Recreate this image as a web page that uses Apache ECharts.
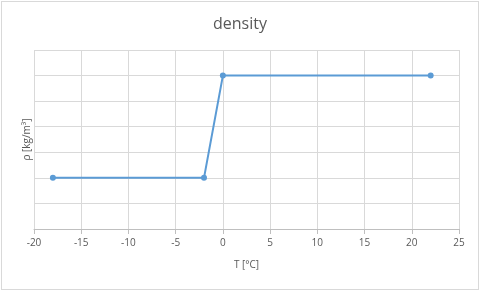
<!DOCTYPE html>
<html><head><meta charset="utf-8">
<script src="https://cdn.jsdelivr.net/npm/echarts@6/dist/echarts.min.js"></script>
<style>html,body{margin:0;padding:0;background:#fff;}#c{width:480px;height:292px;}
#b{position:absolute;left:1px;top:1px;width:476px;height:287px;border:1px solid #d9d9d9;pointer-events:none;}</style>
</head><body><div id="c"></div><div id="b"></div>
<script>
const temps = [-18, -2, 0, 22];
const densities = [2, 2, 6, 6];
const xTicks = [-20, 25, 5];
const chart = echarts.init(document.getElementById('c'));
chart.setOption({
  animation:false,
  title:{text:'density',left:'center',top:11,textStyle:{fontFamily:'Open Sans, Calibri, sans-serif',fontSize:16,fontWeight:'normal',color:'#595959'}},
  grid:{left:34,right:21,top:50,bottom:63},
  xAxis:{type:'value',min:xTicks[0],max:xTicks[1],interval:xTicks[2],
    name:'T [°C]',nameLocation:'middle',nameGap:31,
    nameTextStyle:{fontFamily:'Open Sans, sans-serif',fontSize:10,color:'#595959'},
    axisLine:{lineStyle:{color:'#bfbfbf'}},axisTick:{show:true,length:5,lineStyle:{color:'#bfbfbf'}},
    axisLabel:{fontFamily:'Open Sans, sans-serif',fontSize:10,color:'#595959',margin:9},
    splitLine:{show:true,lineStyle:{color:'#d9d9d9'}}},
  yAxis:{type:'value',min:0,max:7,interval:1,
    name:'ρ [kg/m³]',nameLocation:'middle',nameGap:2,nameRotate:90,
    nameTextStyle:{fontFamily:'Open Sans, sans-serif',fontSize:10,color:'#595959'},
    axisLine:{show:false},axisTick:{show:false},axisLabel:{show:false},
    splitLine:{show:true,lineStyle:{color:'#d9d9d9'}}},
  series:[{type:'line',data:temps.map((t,i)=>[t,densities[i]]),
    lineStyle:{color:'#5b9bd5',width:2},itemStyle:{color:'#5b9bd5'},
    symbol:'circle',symbolSize:6}]
});
</script></body></html>
